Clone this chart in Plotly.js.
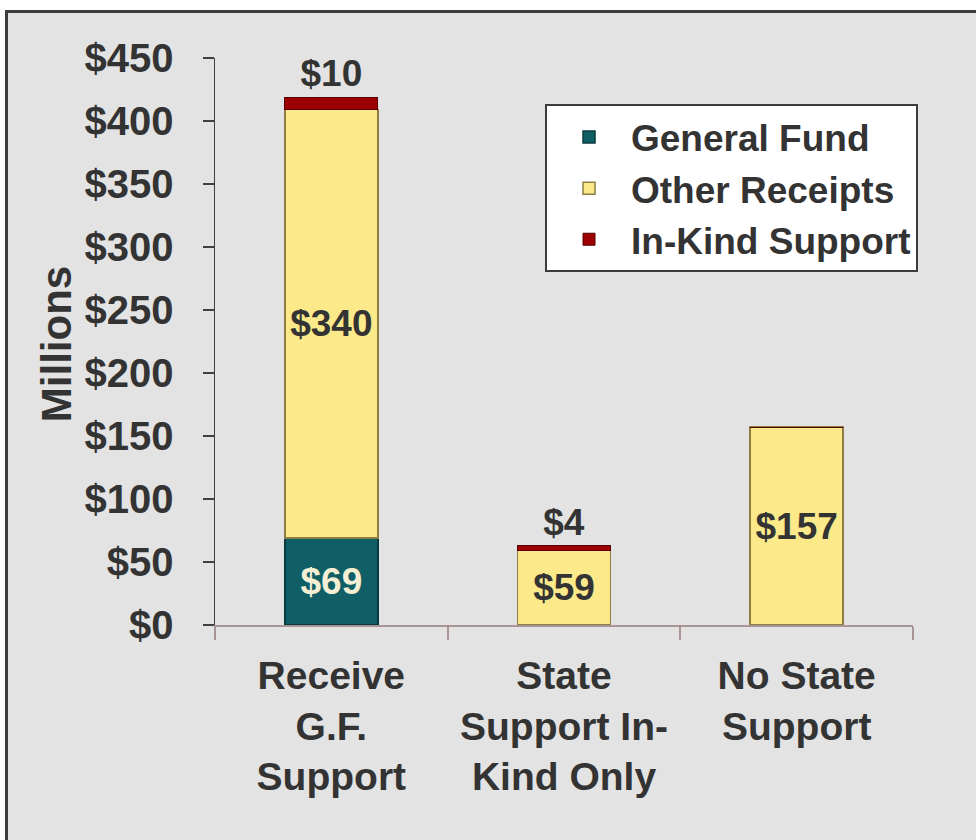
<!DOCTYPE html>
<html>
<head>
<meta charset="utf-8">
<script src="https://cdn.plot.ly/plotly-3.0.1.min.js"></script>
<style>
  html, body { margin:0; padding:0; background:#ffffff; width:976px; height:840px; overflow:hidden; }
  #frame { position:absolute; left:5px; top:10px; width:980px; height:840px; background:#e3e3e3;
           border-left:3px solid #3c3c3c; border-top:3px solid #3c3c3c; }
  #chart { position:absolute; left:0; top:0; width:976px; height:840px; }
</style>
</head>
<body>
<div id="frame"></div>
<div id="chart"></div>
<script>
// ---- data ----
const categories = ["Receive<br>G.F.<br>Support", "State<br>Support In-<br>Kind Only", "No State<br>Support"];
const generalFund = [69, 0, 0];
const otherReceipts = [340, 59, 157];
const inKindSupport = [10, 4, 0];
const seriesNames = ["General Fund", "Other Receipts", "In-Kind Support"];
const yTickValues = [0, 50, 100, 150, 200, 250, 300, 350, 400, 450];

const FONT = "Liberation Sans, Arial, sans-serif";
const DARK = "#333333";
const label = v => (v > 0 ? "$" + v : "");

const common = {
  type: "bar",
  x: categories,
  width: 0.4,
  textposition: "inside",
  insidetextanchor: "middle",
  constraintext: "none",
  cliponaxis: false,
  hoverinfo: "skip"
};

const traces = [
  Object.assign({}, common, {
    name: seriesNames[0],
    y: generalFund,
    text: generalFund.map(label),
    marker: { color: "#105e66", line: { color: "#0a3a3f", width: 1.5 } },
    insidetextfont: { family: FONT, size: 37, color: "#f4efd4", weight: "bold" }
  }),
  Object.assign({}, common, {
    name: seriesNames[1],
    y: otherReceipts,
    text: otherReceipts.map(label),
    marker: { color: "#fce98a", line: { color: "#8c7d45", width: 1.5 } },
    insidetextfont: { family: FONT, size: 37, color: DARK, weight: "bold" }
  }),
  Object.assign({}, common, {
    name: seriesNames[2],
    y: inKindSupport,
    text: inKindSupport.map(label),
    textposition: "outside",
    marker: { color: "#9c0000", line: { color: "#5a0000", width: 1 } },
    outsidetextfont: { family: FONT, size: 37, color: DARK, weight: "bold" }
  })
];

const layout = {
  width: 976,
  height: 840,
  margin: { l: 215, r: 63, t: 58, b: 215, pad: 0 },
  paper_bgcolor: "rgba(0,0,0,0)",
  plot_bgcolor: "rgba(0,0,0,0)",
  barmode: "stack",
  showlegend: true,
  font: { family: FONT, color: DARK, weight: "bold" },
  xaxis: {
    type: "category",
    tickson: "boundaries",
    ticks: "outside",
    ticklen: 13,
    tickwidth: 2,
    tickcolor: "#a89595",
    showline: true,
    linecolor: "#a89595",
    linewidth: 2,
    showgrid: false,
    zeroline: false,
    ticklabelstandoff: 15,
    tickfont: { family: FONT, size: 39, color: DARK, weight: "bold" }
  },
  yaxis: {
    range: [0, 450],
    tickvals: yTickValues,
    ticktext: yTickValues.map(v => "$" + v),
    ticks: "outside",
    ticklen: 11,
    tickwidth: 1.5,
    tickcolor: "#404040",
    showline: true,
    linecolor: "#404040",
    linewidth: 1.5,
    showgrid: false,
    zeroline: false,
    ticklabelstandoff: 21,
    tickfont: { family: FONT, size: 40, color: DARK, weight: "bold" }
  },
  legend: {
    x: 0.4728,
    y: 0.918,
    xanchor: "left",
    yanchor: "top",
    traceorder: "normal",
    bgcolor: "#ffffff",
    bordercolor: "#3c3c3c",
    borderwidth: 2,
    itemwidth: 74,
    font: { family: FONT, size: 37, color: DARK, weight: "bold" }
  },
  annotations: [{
    text: "Millions",
    xref: "paper", yref: "paper",
    x: -0.228, y: 0.495,
    xanchor: "center", yanchor: "middle",
    textangle: -90,
    showarrow: false,
    font: { family: FONT, size: 42, color: DARK, weight: "bold" }
  }]
};

Plotly.newPlot("chart", traces, layout, { displayModeBar: false, staticPlot: true });
</script>
</body>
</html>
